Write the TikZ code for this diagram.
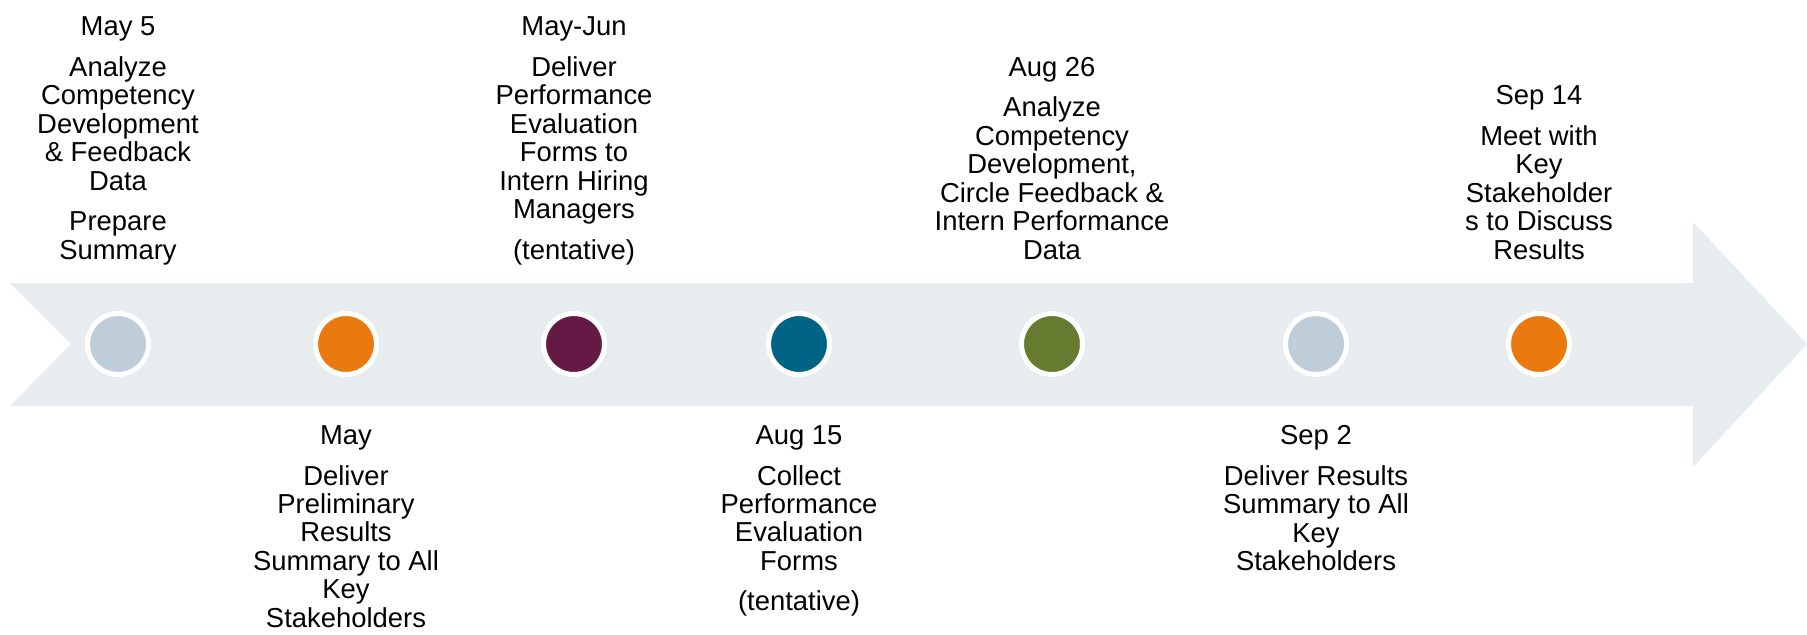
\documentclass[tikz,border=0pt]{standalone}
\usepackage{fontspec}
\setmainfont{Liberation Sans}
\usetikzlibrary{positioning}
\definecolor{TrackGrey}{HTML}{E7ECEF}
\definecolor{DotSlate}{HTML}{BFCDD8}
\definecolor{DotOrange}{HTML}{EA7A10}
\definecolor{DotPlum}{HTML}{651A45}
\definecolor{DotTeal}{HTML}{006484}
\definecolor{DotOlive}{HTML}{667B2F}

\begin{document}
\begin{tikzpicture}[
    font=\fontsize{7.8pt}{8.1pt}\selectfont,
    milestone/.style={
        circle,
        draw=white,                % White ring around each dot
        line width=0.05cm,
        minimum size=0.61cm,
        inner sep=0pt
    },
    toptext/.style={
        align=center,
        inner sep=0pt,
        text=black
    },
    bottomtext/.style={
        align=center,
        inner sep=0pt,
        text=black
    }
]

    % --- 1. Frame ---
    \useasboundingbox (0,0) rectangle (18.07,6.34);

    % --- 2. Timeline arrow ---
    \fill[TrackGrey] (0.10,3.51) -- (16.93,3.51) -- (16.93,4.12) -- (18.07,2.90)
        -- (16.93,1.67) -- (16.93,2.28) -- (0.10,2.28) -- (0.71,2.90) -- cycle;

    % --- 3. Milestone dots ---
    \node[milestone, fill=DotSlate]  (may5)  at (1.18,2.90) {};
    \node[milestone, fill=DotOrange] (may)   at (3.46,2.90) {};
    \node[milestone, fill=DotPlum]   (mayjun) at (5.74,2.90) {};
    \node[milestone, fill=DotTeal]   (aug15) at (7.99,2.90) {};
    \node[milestone, fill=DotOlive]  (aug26) at (10.52,2.90) {};
    \node[milestone, fill=DotSlate]  (sep2)  at (13.16,2.90) {};
    \node[milestone, fill=DotOrange] (sep14) at (15.39,2.90) {};

    % --- 4. Labels above the arrow ---
    \node[toptext, above=0.52cm of may5, anchor=base] (may5text)
        {May 5\\[0.12cm] Analyze\\ Competency\\ Development\\ \& Feedback\\ Data\\[0.12cm] Prepare\\ Summary};
    \node[toptext, above=0.52cm of mayjun, anchor=base] (mayjuntext)
        {May-Jun\\[0.12cm] Deliver\\ Performance\\ Evaluation\\ Forms to\\ Intern Hiring\\ Managers\\[0.12cm] (tentative)};
    \node[toptext, above=0.52cm of aug26, anchor=base] (aug26text)
        {Aug 26\\[0.12cm] Analyze\\ Competency\\ Development,\\ Circle Feedback \&\\ Intern Performance\\ Data};
    \node[toptext, above=0.52cm of sep14, anchor=base] (sep14text)
        {Sep 14\\[0.12cm] Meet with\\ Key\\ Stakeholder\\ s to Discuss\\ Results};

    % --- 5. Labels below the arrow ---
    \node[bottomtext, below=0.48cm of may] (maytext)
        {May\\[0.12cm] Deliver\\ Preliminary\\ Results\\ Summary to All\\ Key\\ Stakeholders};
    \node[bottomtext, below=0.48cm of aug15] (aug15text)
        {Aug 15\\[0.12cm] Collect\\ Performance\\ Evaluation\\ Forms\\[0.12cm] (tentative)};
    \node[bottomtext, below=0.48cm of sep2] (sep2text)
        {Sep 2\\[0.12cm] Deliver Results\\ Summary to All\\ Key\\ Stakeholders};

\end{tikzpicture}
\end{document}
